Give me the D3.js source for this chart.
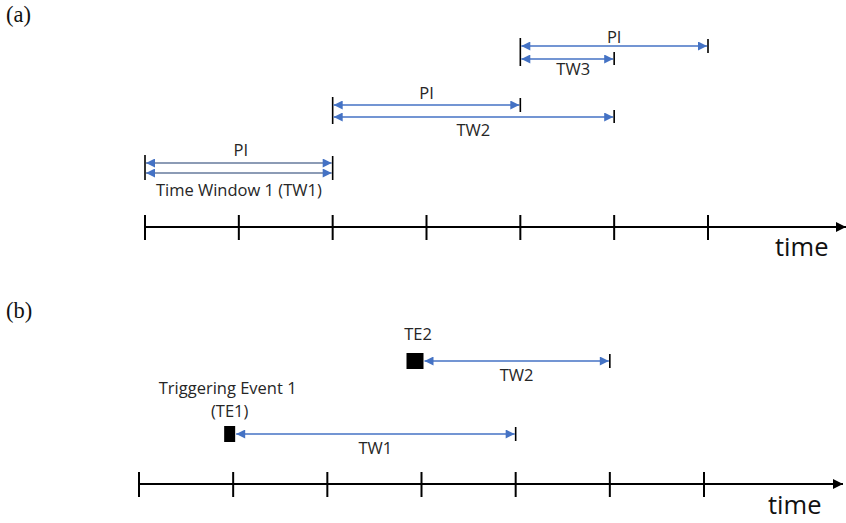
<!DOCTYPE html>
<html><head><meta charset="utf-8">
<script src="https://cdn.jsdelivr.net/npm/d3@7"></script>
<style>body{margin:0;background:#fff}svg{display:block}</style>
</head><body>
<script>
// ---- data ----
const tickIdx = [0, 1, 2, 3, 4, 5, 6];
const panelLabels = ["(a)", "(b)"];
const axisLabel = "time";
// panel (a): time windows (start tick, PI end tick, TW end tick)
const windowNames = ["Time Window 1 (TW1)", "TW2", "TW3"];
const windowStart = [0, 2, 4];
const piEnd = [2, 4, 6];
const twEnd = [2, 5, 5];
const piLabel = "PI";
// panel (b): triggering events
const eventLabels = [["Triggering Event 1", "(TE1)"], ["TE2"]];
const eventAt = [1, 3];
const eventTwEnd = [4, 5];
const eventTwNames = ["TW1", "TW2"];

// ---- layout ----
const W = 846, H = 523;
const svg = d3.select("body").append("svg").attr("width", W).attr("height", H);
const blue = "#4472C4", gray = "#8C9BB5";
const font = "'Open Sans', sans-serif";
const rowPI = [163, 105, 46];
const rowTW = [173, 117, 59];
const piLabelDy = [-7, -6, -3];
const twLabelDy = [23, 19, 16];
const twLabelDx = [0, 0, 6];

const defs = svg.append("defs");
function marker(id, color, mw, mh) {
  const m = defs.append("marker").attr("id", id).attr("viewBox", "0 0 10 10")
    .attr("refX", 10).attr("refY", 5).attr("markerWidth", mw).attr("markerHeight", mh)
    .attr("markerUnits", "userSpaceOnUse").attr("orient", "auto-start-reverse");
  m.append("path").attr("d", "M0,0L10,5L0,10Z").attr("fill", color);
}
marker("ab", blue, 10, 9);
marker("ak", "#000", 10, 11);

// panel labels
svg.selectAll("text.pl").data(panelLabels).join("text").attr("class", "pl")
  .attr("x", 6).attr("y", (d, i) => i ? 318 : 22)
  .attr("font-family", "'Liberation Serif', 'DejaVu Serif', serif").attr("font-size", 22.5)
  .attr("fill", "#111")
  .text(d => d);

function drawAxis(g, x, y, xEnd) {
  g.append("line").attr("x1", x(0)).attr("x2", xEnd).attr("y1", y).attr("y2", y)
    .attr("stroke", "#000").attr("stroke-width", 2).attr("marker-end", "url(#ak)");
  g.selectAll("line.t").data(tickIdx).join("line").attr("class", "t")
    .attr("x1", d => x(d)).attr("x2", d => x(d))
    .attr("y1", y - 12).attr("y2", y + 13).attr("stroke", "#000").attr("stroke-width", 2);
}

function hArrow(g, x1, x2, y, color, w, both) {
  g.append("line").attr("x1", x1).attr("x2", x2).attr("y1", y).attr("y2", y)
    .attr("stroke", color).attr("stroke-width", w)
    .attr("marker-end", "url(#ab)").attr("marker-start", both ? "url(#ab)" : null);
}
function vbar(g, x, y1, y2) {
  g.append("line").attr("x1", x).attr("x2", x).attr("y1", y1).attr("y2", y2)
    .attr("stroke", "#000").attr("stroke-width", 1.6);
}
function label(g, x, y, t, size) {
  g.append("text").attr("x", x).attr("y", y).attr("text-anchor", "middle")
    .attr("font-family", font).attr("font-size", size || 16.5).attr("fill", "#262626").text(t);
}

// ---- panel (a) ----
const xa = d3.scaleLinear().domain([0, 6]).range([145, 708]);
const ga = svg.append("g");
drawAxis(ga, xa, 227, 846);
ga.append("text").attr("x", 775).attr("y", 256).attr("font-family", font)
  .attr("font-size", 25.5).attr("fill", "#111").text(axisLabel);

windowNames.forEach((name, i) => {
  const col = i === 0 ? gray : blue;
  const sw = i === 0 ? 2 : 1.4;
  const s = xa(windowStart[i]);
  vbar(ga, s, rowPI[i] - 8, rowTW[i] + 7);
  hArrow(ga, s + 1, xa(piEnd[i]) - 1, rowPI[i], col, sw, true);
  hArrow(ga, s + 1, xa(twEnd[i]) - 1, rowTW[i], col, sw, true);
  vbar(ga, xa(piEnd[i]), rowPI[i] - 7, rowPI[i] + (twEnd[i] === piEnd[i] ? 17 : 7));
  if (twEnd[i] !== piEnd[i]) vbar(ga, xa(twEnd[i]), rowTW[i] - 7, rowTW[i] + 6);
  label(ga, (s + xa(piEnd[i])) / 2 + (i === 0 ? 2 : 0), rowPI[i] + piLabelDy[i], piLabel);
  label(ga, (s + xa(twEnd[i])) / 2 + twLabelDx[i], rowTW[i] + twLabelDy[i], name);
});

// ---- panel (b) ----
const xb = d3.scaleLinear().domain([0, 6]).range([139, 704]);
const gb = svg.append("g");
drawAxis(gb, xb, 484, 843);
gb.append("text").attr("x", 768).attr("y", 514).attr("font-family", font)
  .attr("font-size", 25.5).attr("fill", "#111").text(axisLabel);

const evY = [434, 361];
const evW = [11, 17];
const evDx = [2, 2];
const evLabelDy = [[-40, -17], [-21]];
const evLabelDx = [[-2, 0], [3]];
eventAt.forEach((e, i) => {
  const right = xb(e) + evDx[i];
  const y = evY[i];
  gb.append("rect").attr("x", right - evW[i]).attr("y", y - 8).attr("width", evW[i]).attr("height", 16)
    .attr("fill", "#000");
  hArrow(gb, xb(eventTwEnd[i]) - 1, right + 1, y, blue, 1.4, true);
  vbar(gb, xb(eventTwEnd[i]), y - 7, y + 7);
  label(gb, (right + xb(eventTwEnd[i])) / 2, y + 20, eventTwNames[i]);
  eventLabels[i].forEach((t, j) => {
    label(gb, right - evW[i] / 2 + evLabelDx[i][j], y + evLabelDy[i][j], t);
  });
});
</script>
</body></html>
